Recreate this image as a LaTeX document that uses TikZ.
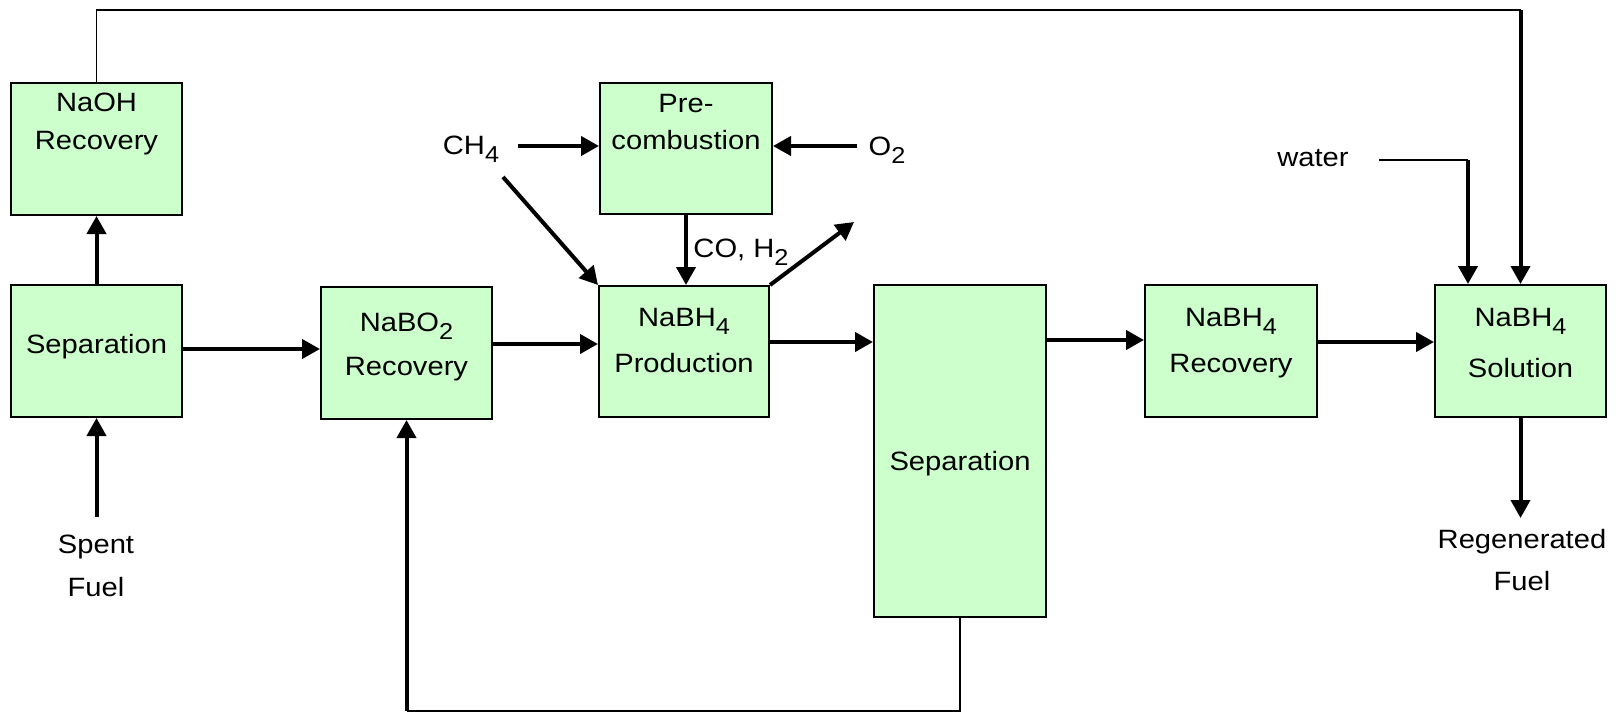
\documentclass[tikz,border=0pt]{standalone}
\usepackage{fontspec}
\setmainfont[FakeStretch=1.1]{Liberation Sans}
\usetikzlibrary{arrows.meta,calc}
\definecolor{boxgreen}{RGB}{204,255,204}
\newcommand{\chsub}[1]{\raisebox{-8pt}{\fontsize{23}{23}\selectfont #1}}
\tikzset{
  procbox/.style={draw=black, line width=2pt, fill=boxgreen, rectangle, inner sep=0pt,
                  minimum width=171pt, minimum height=132pt},
  txt/.style={anchor=base, inner sep=0pt, font=\fontsize{26.5}{32}\selectfont},
  flow/.style={line width=4pt, -{Triangle[length=18pt,width=19pt]}},
  thinline/.style={line width=1.3pt},
}
\begin{document}
\begin{tikzpicture}[x=1pt,y=-1pt]
\useasboundingbox (0,0) rectangle (1616,714);

% boxes
\node[procbox] (naoh)  at (96.5,149) {};
\node[procbox] (sep1)  at (96.5,351) {};
\node[procbox] (nabo2) at (406.5,353) {};
\node[procbox, minimum width=172pt, minimum height=131pt] (pre)  at (686,148.5) {};
\node[procbox, minimum width=170pt, minimum height=131pt] (prod) at (684,351.5) {};
\node[procbox, minimum width=172pt, minimum height=332pt] (sep2) at (960,451) {};
\node[procbox, minimum width=172pt] (rec) at (1231,351) {};
\node[procbox] (sol) at (1520.5,351) {};

% box texts
\node[txt] (naohA) at (96.5,112) {NaOH};
\node[txt] (naohB) at (96.5,150) {Recovery};
\node[txt] (sep1A) at (96.5,353) {Separation};
\node[txt] (nabo2A) at (406.5,331) {NaBO\chsub{2}};
\node[txt] (nabo2B) at (406.5,375) {Recovery};
\node[txt] (preA) at (686,113) {Pre-};
\node[txt] (preB) at (686,150) {combustion};
\node[txt] (prodA) at (684,326) {NaBH\chsub{4}};
\node[txt] (prodB) at (684,372) {Production};
\node[txt] (sep2A) at (960,470) {Separation};
\node[txt] (recA) at (1231,326) {NaBH\chsub{4}};
\node[txt] (recB) at (1231,372) {Recovery};
\node[txt] (solA) at (1520.5,326) {NaBH\chsub{4}};
\node[txt] (solB) at (1520.5,377) {Solution};

% free labels
\node[txt] (spentA) at (96,553) {Spent};
\node[txt] (spentB) at (96,596) {Fuel};
\node[txt] (regenA) at (1522,548) {Regenerated};
\node[txt] (regenB) at (1522,590) {Fuel};
\node[txt] (ch4) at (471,155) {CH\chsub{4}};
\node[txt] (o2) at (887,156) {O\chsub{2}};
\node[txt] (coh2) at (741,257) {CO, H\chsub{2}};
\node[txt] (water) at (1313,167) {water};

% helper coordinates
\coordinate (spentTip) at (96.5,517);
\coordinate (s1e) at ([yshift=2pt]sep1.east);
\coordinate (n2e) at ([yshift=9pt]nabo2.east);
\coordinate (pde) at ([yshift=9.5pt]prod.east);
\coordinate (rcw) at ([yshift=11pt]rec.west);
\coordinate (rce) at ([yshift=9pt]rec.east);
\coordinate (ch4R) at (518,146);
\coordinate (o2L) at (857,146);
\coordinate (ch4D) at (503,177);
\coordinate (exh) at (854,222);
\coordinate (topL) at (96.5,10);
\coordinate (topR) at (1520.5,10);
\coordinate (wL) at (1379,160);
\coordinate (wC) at (1468,160);
\coordinate (regTip) at (1520.5,518);
\coordinate (bR) at (960,711);
\coordinate (bL) at (406.5,711);

% connectors
\draw[flow] (sep1) -- (naoh);
\draw[flow] (spentTip) -- (sep1.south);
\draw[flow] (s1e) -- (s1e -| nabo2.west);
\draw[flow] (n2e) -- (n2e -| prod.west);
\draw[flow] (pde) -- (pde -| sep2.west);
\draw[flow] (rcw -| sep2.east) -- (rcw);
\draw[flow] (rce) -- (rce -| sol.west);
\draw[flow] (pre.south) -- (pre.south |- prod.north);
\draw[flow] (ch4R) -- (ch4R -| pre.west);
\draw[flow] (o2L) -- (o2L -| pre.east);
\draw[flow] (ch4D) -- (prod.north west);
\draw[flow] (prod.north east) -- (exh);
\draw[thinline] (naoh.north) -- (topL) -- (topR);
\draw[flow] (topR) -- (topR |- sol.north);
\draw[thinline] (wL) -- (wC);
\draw[flow] (wC) -- (wC |- sol.north);
\draw[flow] (sol.south) -- (regTip);
\draw[thinline] (sep2.south) -- (bR) -- (bL);
\draw[flow] (bL) -- (nabo2.south);
\end{tikzpicture}
\end{document}
